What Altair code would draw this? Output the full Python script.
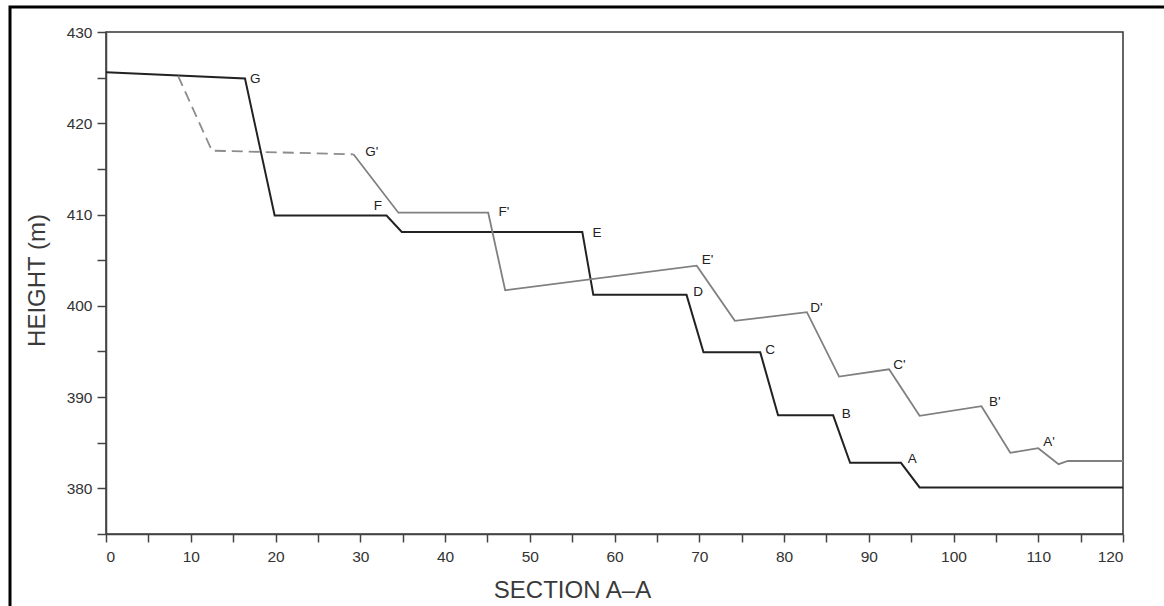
import altair as alt
import pandas as pd

# Profile of existing terraces (dark line)
black_x = [0, 16.4, 19.9, 33.1, 34.9, 56.2, 57.5, 68.5, 70.5, 77.2, 79.3, 85.8, 87.8, 93.8, 96.0, 120]
black_y = [425.6, 424.9, 409.9, 409.9, 408.1, 408.1, 401.2, 401.2, 394.9, 394.9, 388.0, 388.0, 382.8, 382.8, 380.1, 380.1]

# Second profile (grey line), dashed start then solid
dash_x = [8.5, 12.5, 29.2]
dash_y = [425.2, 417.0, 416.6]
grey_x = [29.2, 34.5, 45.1, 47.1, 69.7, 74.2, 82.7, 86.5, 92.4, 96.0, 103.3, 106.7, 110.0, 112.4, 113.5, 120]
grey_y = [416.6, 410.2, 410.2, 401.7, 404.4, 398.35, 399.3, 392.25, 393.05, 387.95, 389.0, 383.9, 384.4, 382.65, 383.0, 383.0]

# Point labels
lab_text = ["G", "F", "E", "D", "C", "B", "A", "G'", "F'", "E'", "D'", "C'", "B'", "A'"]
lab_x = [17.0, 31.6, 57.4, 69.3, 77.8, 86.8, 94.6, 30.6, 46.3, 70.3, 83.1, 92.9, 104.2, 110.6]
lab_y = [424.9, 410.9, 408.0, 401.5, 395.2, 388.2, 383.2, 416.8, 410.3, 405.0, 399.8, 393.5, 389.5, 385.1]

x_ticks = list(range(0, 121, 5))
y_ticks = list(range(375, 431, 5))

df_black = pd.DataFrame({"x": black_x, "y": black_y, "o": range(len(black_x))})
df_dash = pd.DataFrame({"x": dash_x, "y": dash_y, "o": range(len(dash_x))})
df_grey = pd.DataFrame({"x": grey_x, "y": grey_y, "o": range(len(grey_x))})
df_lab = pd.DataFrame({"t": lab_text, "x": lab_x, "y": lab_y})

W, H = 1017, 502
FONT = "Liberation Sans"

xscale = alt.Scale(domain=[0, 120], nice=False, zero=False)
yscale = alt.Scale(domain=[375, 430], nice=False, zero=False)

xaxis = alt.Axis(
    values=x_ticks, labelExpr="datum.value % 10 == 0 ? datum.label : ''",
    title="SECTION A\u2013A", grid=False, tickSize=8, labelPadding=7,
    labelFont=FONT, labelFontSize=15.5, labelColor="#333",
    domainColor="#444", domainWidth=1.5, tickColor="#444", tickWidth=1.5,
    titleFont=FONT, titleFontSize=24, titleFontWeight="normal", titleColor="#3a3a3a",
    titleX=466, titleY=63, titleAlign="center", titleBaseline="alphabetic",
)
yaxis = alt.Axis(
    values=y_ticks, labelExpr="datum.value % 10 == 0 ? datum.label : ''",
    title="HEIGHT (m)", grid=False, tickSize=9, labelPadding=5,
    labelFont=FONT, labelFontSize=15.5, labelColor="#333",
    domainColor="#444", domainWidth=1.5, tickColor="#444", tickWidth=1.5,
    titleFont=FONT, titleFontSize=24, titleFontWeight="normal", titleColor="#3a3a3a",
    titleX=-69, titleY=248, titleAlign="center", titleBaseline="middle", titleAngle=-90,
)

black = alt.Chart(df_black).mark_line(color="#222", strokeWidth=2).encode(
    x=alt.X("x:Q", scale=xscale, axis=xaxis),
    y=alt.Y("y:Q", scale=yscale, axis=yaxis),
    order="o:Q",
)
dash = alt.Chart(df_dash).mark_line(color="#8c8c8c", strokeWidth=1.8, strokeDash=[11, 6]).encode(
    x=alt.X("x:Q", scale=xscale), y=alt.Y("y:Q", scale=yscale), order="o:Q"
)
grey = alt.Chart(df_grey).mark_line(color="#808080", strokeWidth=1.8).encode(
    x=alt.X("x:Q", scale=xscale), y=alt.Y("y:Q", scale=yscale), order="o:Q"
)
labels = alt.Chart(df_lab).mark_text(
    align="left", baseline="middle", font=FONT, fontSize=13.5, color="#222"
).encode(x=alt.X("x:Q", scale=xscale), y=alt.Y("y:Q", scale=yscale), text="t:N")

border = alt.Chart(pd.DataFrame({"k": [0]})).mark_rect(
    fill=None, fillOpacity=0, stroke="#000", strokeWidth=3
).encode(
    x=alt.value(-96), x2=alt.value(1164 - 106 + 20),
    y=alt.value(-25), y2=alt.value(606 - 32 + 20),
)

chart = alt.layer(border, black, dash, grey, labels).properties(
    width=W, height=H,
    autosize=alt.AutoSizeParams(type="none"),
    padding={"left": 106, "top": 32, "right": 41, "bottom": 72},
    background="white",
).configure_view(stroke="#333", strokeWidth=1.5)

chart.save("out.html", embed_options={"renderer": "svg", "actions": False})
